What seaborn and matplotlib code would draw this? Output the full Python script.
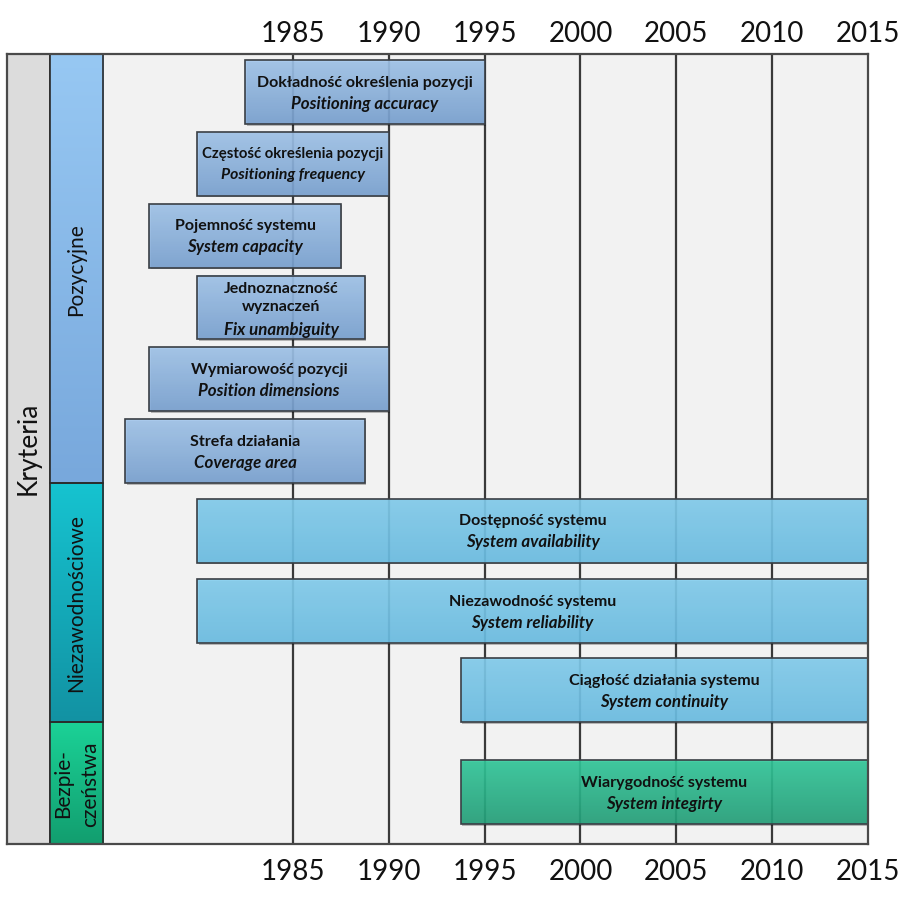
import numpy as np
import matplotlib
matplotlib.use("Agg")
import matplotlib.pyplot as plt
import seaborn as sns
from matplotlib.colors import to_rgba
from matplotlib.transforms import offset_copy

# ---------------- data ----------------
labels_pl = ["Dokładność określenia pozycji", "Częstość określenia pozycji",
             "Pojemność systemu", "Jednoznaczność\nwyznaczeń", "Wymiarowość pozycji",
             "Strefa działania", "Dostępność systemu", "Niezawodność systemu",
             "Ciągłość działania systemu", "Wiarygodność systemu"]
labels_en = ["Positioning accuracy", "Positioning frequency", "System capacity",
             "Fix unambiguity", "Position dimensions", "Coverage area",
             "System availability", "System reliability", "System continuity",
             "System integirty"]
start_year = [1982.5, 1980.0, 1977.5, 1980.0, 1977.5, 1976.25, 1980.0, 1980.0, 1993.75, 1993.75]
end_year = [1995.0, 1990.0, 1987.5, 1988.75, 1990.0, 1988.75, 2015.0, 2015.0, 2015.0, 2015.0]
group = [0, 0, 0, 0, 0, 0, 1, 1, 1, 2]
categories = ["Pozycyjne", "Niezawodnościowe", "Bezpie-\nczeństwa"]
title_left = "Kryteria"
year_ticks = [1985, 1990, 1995, 2000, 2005, 2010, 2015]

# ---------------- layout ----------------
row_pos = [0.535, 1.53, 2.53, 3.53, 4.53, 5.53, 6.64, 7.76, 8.86, 10.28]
bar_h = 0.89
fs_bold = [11.5, 10.7, 11.5, 11.5, 11.5, 11.5, 11.5, 11.5, 11.5, 11.5]
fs_ital = [12.2, 11.3, 12.2, 12.2, 12.2, 12.2, 12.2, 12.2, 12.2, 12.2]
cat_bounds = [(0.0, 5.975), (5.975, 9.30), (9.30, 11.0)]
cat_linespacing = [1.0, 1.0, 1.45]
xlim = (1970.08, 2015.0)
ylim = (11.0, 0.0)
col_fr = [0.0, 0.0499, 0.1115]  # axes-fraction boundaries of the left columns

bar_cols = [("#A2C6EC", "#7AA3D3"), ("#84CFEF", "#6CC0E6"), ("#33CA9C", "#25A27B")]
cat_cols = [("#97C8F3", "#78A8DC"), ("#16C3D0", "#1292A3"), ("#1BD297", "#129E6F")]

sns.set_theme(style="white")
plt.rcParams["font.family"] = ["Lato", "DejaVu Sans"]

fig = plt.figure(figsize=(9.2, 9.03), dpi=100)
ax = fig.add_axes([7 / 920, 1 - 845 / 903, 861 / 920, 790 / 903])
ax.set_facecolor("#F2F2F2")


def fr2x(f):
    return xlim[0] + f * (xlim[1] - xlim[0])


def grad(x0, x1, y0, y1, ctop, cbot, alpha=1.0, z=2):
    t = np.linspace(0, 1, 128)[:, None]
    a = np.array(to_rgba(ctop))
    b = np.array(to_rgba(cbot))
    img = (a[None, None, :] * (1 - t[..., None]) + b[None, None, :] * t[..., None])
    img[..., 3] = alpha
    ax.imshow(img, extent=[x0, x1, y1, y0], origin="upper", aspect="auto",
              interpolation="bilinear", zorder=z)


# gridlines
ax.vlines(year_ticks[:-1], ylim[1], ylim[0], color="#3A3A3A", lw=1.6, zorder=1)

# left panels
ax.add_patch(plt.Rectangle((fr2x(col_fr[0]), 0), fr2x(col_fr[1]) - fr2x(col_fr[0]), 11,
                           facecolor="#DCDCDC", edgecolor="#3A3A3A", lw=1.2, zorder=3))
for i, (y0, y1) in enumerate(cat_bounds):
    grad(fr2x(col_fr[1]), fr2x(col_fr[2]), y0, y1, cat_cols[i][0], cat_cols[i][1], 1.0, 3)
    ax.add_patch(plt.Rectangle((fr2x(col_fr[1]), y0), fr2x(col_fr[2]) - fr2x(col_fr[1]), y1 - y0,
                               facecolor="none", edgecolor="#2A2A2A", lw=1.2, zorder=4))
    ax.text(fr2x((col_fr[1] + col_fr[2]) / 2), (y0 + y1) / 2,
            categories[i], rotation=90, ha="center", va="center", multialignment="center",
            fontsize=15, color="#111111", zorder=5, linespacing=cat_linespacing[i])
ax.text(fr2x((col_fr[0] + col_fr[1]) / 2), 5.47, title_left, rotation=90, ha="center",
        va="center", fontsize=19, color="#111111", zorder=5)

# bars
shadow_tr = offset_copy(ax.transData, fig=fig, x=1.5, y=-1.5, units="dots")
for i in range(len(labels_pl)):
    x0, x1 = start_year[i], end_year[i]
    yc = row_pos[i]
    y0, y1 = yc - bar_h / 2, yc + bar_h / 2
    ax.barh(yc, x1 - x0, left=x0, height=bar_h, color="#000000", alpha=0.25,
            transform=shadow_tr, zorder=1.5, lw=0)
    g = group[i]
    grad(x0, x1, y0, y1, bar_cols[g][0], bar_cols[g][1], 0.9, 2)
    ax.barh(yc, x1 - x0, left=x0, height=bar_h, facecolor="none",
            edgecolor="#3A3F45", lw=1.2, zorder=3)
    xc = (x0 + x1) / 2
    nl = labels_pl[i].count("\n") + 2
    step = 0.293
    first = yc - step * (nl - 1) / 2
    ax.text(xc, first + step * (nl - 2) / 2, labels_pl[i], ha="center", va="center",
            fontsize=fs_bold[i], fontweight="bold", color="#111111", zorder=5,
            linespacing=1.3)
    ax.text(xc, first + step * (nl - 1), labels_en[i], ha="center", va="center",
            fontsize=fs_ital[i], fontweight="bold", style="italic", color="#111111", zorder=5)

ax.set_xlim(*xlim)
ax.set_ylim(*ylim)
ax.set_xticks(year_ticks)
ax.set_xticklabels([str(y) for y in year_ticks])
ax.set_yticks([])
ax.tick_params(axis="x", bottom=True, labelbottom=True,
               length=0, labelsize=20, pad=10, colors="#111111")
sec = ax.secondary_xaxis("top")
sec.set_xticks(year_ticks)
sec.set_xticklabels([str(y) for y in year_ticks])
sec.tick_params(axis="x", length=0, labelsize=20, pad=6, colors="#111111")
sec.spines["top"].set_visible(False)
for s in ax.spines.values():
    s.set_color("#4A4A4A")
    s.set_linewidth(1.6)
    s.set_zorder(6)

fig.savefig("out.png", dpi=100)
